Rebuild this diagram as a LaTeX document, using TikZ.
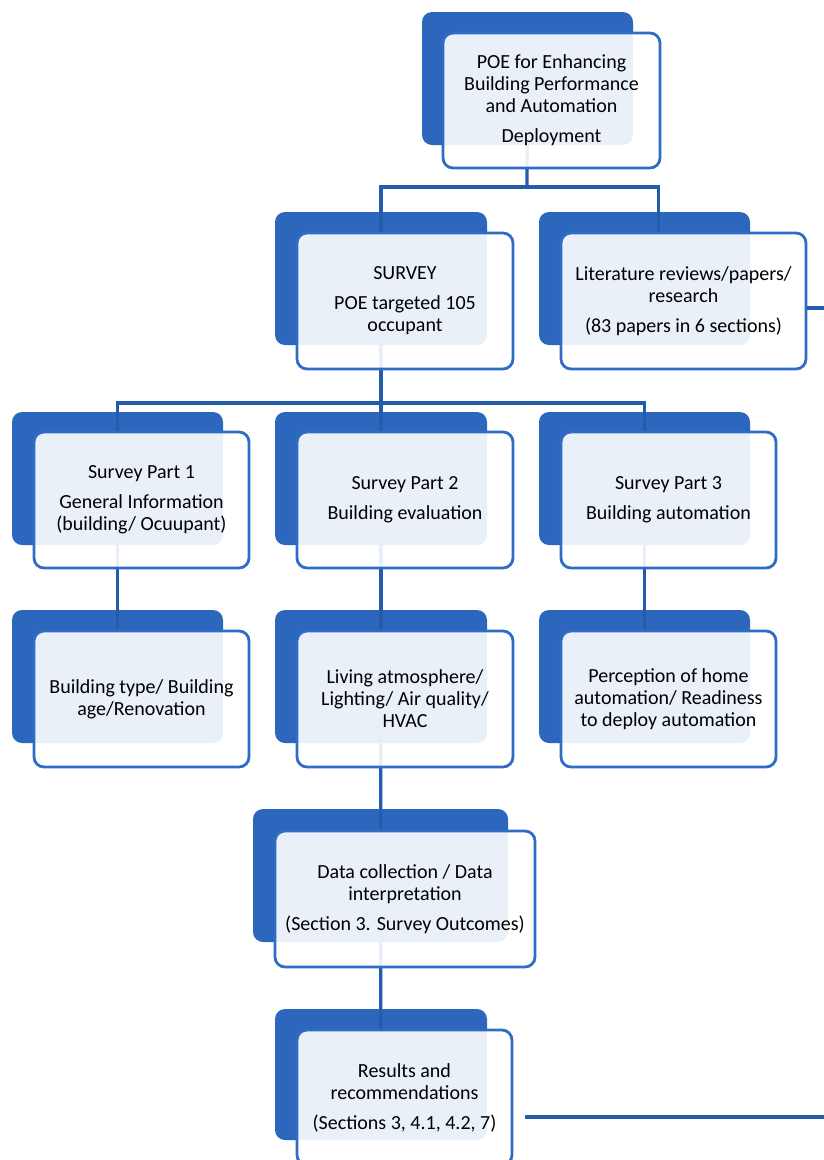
\documentclass[tikz,border=0pt]{standalone}
\usepackage{fontspec}
\setmainfont{Carlito}
\usetikzlibrary{calc}

\definecolor{boxblue}{RGB}{44,103,189}
\definecolor{edgeblue}{RGB}{46,108,197}
\definecolor{lineblue}{RGB}{36,92,172}

\begin{document}
\begin{tikzpicture}[x=1pt, y=-1pt, font=\fontsize{20}{22}\selectfont]
  \tikzstyle{backbox} = [rectangle, rounded corners=10pt, fill=boxblue, inner sep=0pt,
    minimum width=212pt, minimum height=133pt]
  \tikzstyle{frontbox} = [rectangle, rounded corners=10pt, draw=edgeblue, line width=2.8pt,
    fill=white, fill opacity=0.9, text opacity=1, inner sep=0pt, align=center,
    minimum width=216pt, minimum height=136pt]
  \tikzstyle{link} = [draw=lineblue, line width=3.2pt]
  \useasboundingbox (0,0) rectangle (824,1160);

  % back boxes
  \node [backbox, minimum width=211pt] (poeB) at (527.5,78.5) {};
  \node [backbox] (surveyB) at (381,278.5) {};
  \node [backbox, minimum width=211pt] (litB) at (644.5,278.5) {};
  \node [backbox, minimum width=211pt] (partoneB) at (117.5,478.5) {};
  \node [backbox] (parttwoB) at (381,478.5) {};
  \node [backbox, minimum width=211pt] (partthreeB) at (644.5,478.5) {};
  \node [backbox, minimum width=211pt] (typeB) at (117.5,676.5) {};
  \node [backbox] (livingB) at (381,676.5) {};
  \node [backbox, minimum width=211pt] (perceptB) at (644.5,676.5) {};
  \node [backbox, minimum width=255pt] (dataB) at (380.5,875.5) {};
  \node [backbox, minimum height=131pt] (resultsB) at (381,1074.5) {};

  % connectors
  \coordinate (topjoin) at (527,187);
  \coordinate (surveyjoin) at (381,403);
  \coordinate (litend) at (824,308);
  \coordinate (resstart) at (525,1117);
  \coordinate (resend) at (824,1117);
  \draw [link] (poeB.center) -- (topjoin);
  \draw [link] (surveyB.center) |- (topjoin) -| ($(litB.center)+(14,0)$);
  \draw [link] (surveyB.center) -- (surveyjoin);
  \draw [link] (partoneB.center) |- (surveyjoin) -| (partthreeB.center);
  \draw [link] (parttwoB.center) -- (surveyjoin);
  \draw [link] (partoneB.center) -- (typeB.center);
  \draw [link] (parttwoB.center) -- (livingB.center);
  \draw [link] (partthreeB.center) -- (perceptB.center);
  \draw [link] (livingB.center) -- (dataB.center);
  \draw [link] (dataB.center) -- (resultsB.center);

  % front boxes
  \node [frontbox, minimum width=217pt, minimum height=135pt] (poe) at (551.5,100.5)
    {POE for Enhancing\\ Building Performance\\ and Automation\\[8pt] Deployment};
  \node [frontbox] (survey) at (405,301)
    {SURVEY\\[8pt] POE targeted 105\\ occupant};
  \node [frontbox, minimum width=245pt] (lit) at (683.5,301)
    {Literature reviews/papers/\\ research\\[8pt] (83 papers in 6 sections)};
  \node [frontbox, minimum width=215pt] (partone) at (141.5,500)
    {Survey Part 1\\[8pt] General Information\\ (building/ Ocuupant)};
  \node [frontbox] (parttwo) at (405,500)
    {Survey Part 2\\[8pt] Building evaluation};
  \node [frontbox, minimum width=215pt] (partthree) at (668.5,500)
    {Survey Part 3\\[8pt] Building automation};
  \node [frontbox, minimum width=215pt] (type) at (141.5,699)
    {Building type/ Building\\ age/Renovation};
  \node [frontbox] (living) at (405,699)
    {Living atmosphere/\\ Lighting/ Air quality/\\ HVAC};
  \node [frontbox, minimum width=215pt] (percept) at (668.5,699)
    {Perception of home\\ automation/ Readiness\\ to deploy automation};
  \node [frontbox, minimum width=260pt] (data) at (405,899)
    {Data collection / Data\\ interpretation\\[8pt] (Section 3. Survey Outcomes)};
  \node [frontbox, minimum width=215pt, minimum height=135pt] (results) at (404.5,1097.5)
    {Results and\\ recommendations\\[8pt] (Sections 3, 4.1, 4.2, 7)};

  % lines leaving the picture
  \draw [link] (lit.east |- litend) -- (litend);
  \draw [link] (resstart) -- (resend);
\end{tikzpicture}
\end{document}
